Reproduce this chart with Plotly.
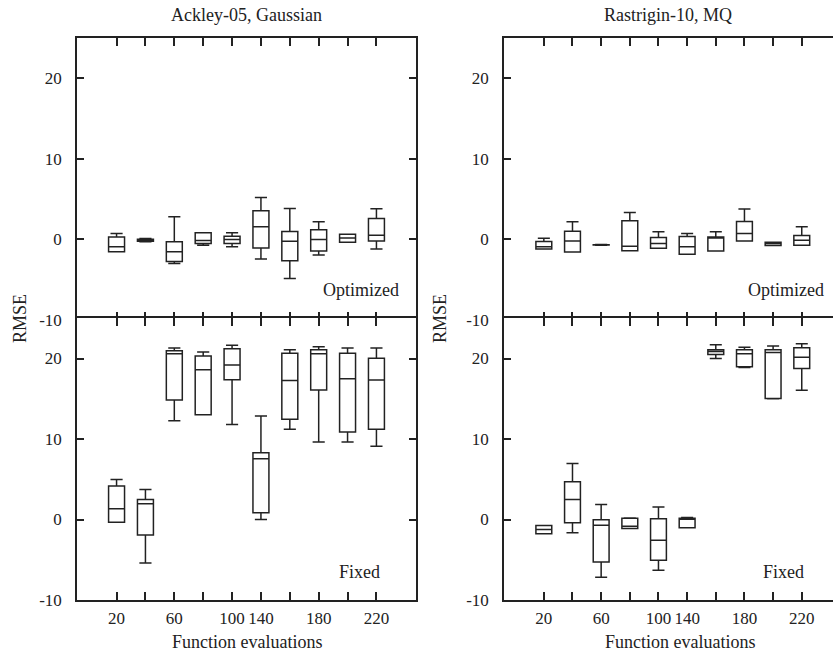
import plotly.graph_objects as go

categories = ["20", "40", "60", "80", "100", "140", "160", "180", "200", "220"]
tick_labels = ["20", "", "60", "", "100", "140", "", "180", "", "220"]

# Ackley-05, Gaussian - Optimized
ack_opt_lo = [-1.54, -0.3, -3.0, -0.75, -0.92, -2.46, -4.88, -1.96, -0.38, -1.21]
ack_opt_q1 = [-1.54, -0.25, -2.75, -0.54, -0.54, -1.08, -2.67, -1.46, -0.38, -0.21]
ack_opt_med = [-0.92, -0.1, -1.54, -0.17, -0.04, 1.54, -0.25, -0.04, 0.17, 0.5]
ack_opt_q3 = [0.29, 0.0, -0.3, 0.8, 0.37, 3.54, 0.96, 1.17, 0.62, 2.58]
ack_opt_hi = [0.71, 0.1, 2.8, 0.8, 0.8, 5.2, 3.83, 2.17, 0.62, 3.79]

# Ackley-05, Gaussian - Fixed
ack_fix_lo = [-0.33, -5.39, 12.28, 13.0, 11.8, 0.0, 11.2, 9.63, 9.63, 9.09]
ack_fix_q1 = [-0.33, -1.91, 14.85, 13.0, 17.35, 0.83, 12.45, 16.1, 10.87, 11.2]
ack_fix_med = [1.33, 1.95, 20.6, 18.6, 19.2, 7.55, 17.26, 20.6, 17.47, 17.34]
ack_fix_q3 = [4.15, 2.49, 20.95, 20.3, 21.2, 8.3, 20.66, 21.08, 20.66, 20.04]
ack_fix_hi = [4.98, 3.73, 21.3, 20.8, 21.66, 12.86, 21.1, 21.45, 21.3, 21.3]

# Rastrigin-10, MQ - Optimized
ras_opt_lo = [-1.2, -1.58, -0.75, -1.42, -1.125, -1.875, -1.46, -0.21, -0.79, -0.75]
ras_opt_q1 = [-1.2, -1.58, -0.72, -1.42, -1.125, -1.875, -1.46, -0.21, -0.79, -0.75]
ras_opt_med = [-0.92, -0.21, -0.7, -0.875, -0.54, -0.92, 0.25, 0.71, -0.54, -0.125]
ras_opt_q3 = [-0.29, 1.0, -0.68, 2.29, 0.21, 0.33, 0.29, 2.21, -0.375, 0.46]
ras_opt_hi = [0.125, 2.17, -0.65, 3.33, 0.92, 0.71, 0.92, 3.75, -0.375, 1.54]

# Rastrigin-10, MQ - Fixed
ras_fix_lo = [-1.78, -1.66, -7.18, -1.12, -6.3, -1.04, 20.0, 18.88, 15.0, 16.06]
ras_fix_q1 = [-1.78, -0.41, -5.27, -1.12, -5.06, -1.04, 20.5, 18.96, 15.02, 18.76]
ras_fix_med = [-1.24, 2.49, -0.7, -0.83, -2.57, 0.08, 20.87, 20.58, 20.75, 20.17]
ras_fix_q3 = [-0.75, 4.69, -0.04, 0.17, 0.08, 0.17, 21.08, 21.08, 21.08, 21.33]
ras_fix_hi = [-0.75, 6.97, 1.87, 0.2, 1.54, 0.25, 21.7, 21.41, 21.54, 21.83]

y_ticks = [-10, 0, 10, 20]
y_tick_labels = ["-10", "0", "10", "20"]

INK = "#222222"
FONT = "Liberation Serif"

W, H = 833, 654
ML, MR, MT, MB = 77, 0, 38, 54
PW = W - ML - MR
PH = H - MT - MB


def px_x(p):
    return (p - ML) / PW


def px_y(p):
    return (H - MB - p) / PH


fig = go.Figure()

panels = [
    ("x", "y", ack_opt_lo, ack_opt_q1, ack_opt_med, ack_opt_q3, ack_opt_hi),
    ("x2", "y2", ras_opt_lo, ras_opt_q1, ras_opt_med, ras_opt_q3, ras_opt_hi),
    ("x3", "y3", ack_fix_lo, ack_fix_q1, ack_fix_med, ack_fix_q3, ack_fix_hi),
    ("x4", "y4", ras_fix_lo, ras_fix_q1, ras_fix_med, ras_fix_q3, ras_fix_hi),
]

for xa, ya, lo, q1, med, q3, hi in panels:
    fig.add_trace(go.Box(
        x=categories, lowerfence=lo, q1=q1, median=med, q3=q3, upperfence=hi,
        xaxis=xa, yaxis=ya, boxpoints=False, fillcolor="white",
        line=dict(color=INK, width=1.5), whiskerwidth=0.76, showlegend=False,
        hoverinfo="skip",
    ))

LW = 1.5
half = (LW / 2) / PH
left_dom = [0, px_x(416)]
right_dom = [px_x(504), 1.0]
top_dom = [0.5 - half, 1.0]
bot_dom = [0.0, 0.5 + half]
left_range = [-1.37, 10.37]
right_range = [-1.39, 10.09]

tick_font = dict(family=FONT, size=17, color=INK)


def xaxis(dom, anchor, rng, show_labels):
    return dict(
        domain=dom, anchor=anchor, type="category", categoryorder="array",
        categoryarray=categories, range=rng,
        tickmode="array", tickvals=categories, ticktext=tick_labels,
        showticklabels=show_labels, ticks="inside", ticklen=8, tickwidth=LW,
        tickcolor=INK, showline=True, linecolor=INK, linewidth=LW,
        mirror="ticks", showgrid=False, zeroline=False, tickfont=tick_font,
        ticklabelstandoff=2,
    )


def yaxis(dom, anchor, mirror):
    return dict(
        domain=dom, anchor=anchor, range=[-10, 25], tickmode="array",
        tickvals=y_ticks, ticktext=y_tick_labels, ticks="inside", ticklen=7,
        tickwidth=LW, tickcolor=INK, showline=True, linecolor=INK,
        linewidth=LW, mirror=mirror, showgrid=False, zeroline=False,
        tickfont=tick_font, ticklabelstandoff=10,
    )


fig.update_layout(
    width=W, height=H,
    margin=dict(l=ML, r=MR, t=MT, b=MB, pad=0),
    paper_bgcolor="white", plot_bgcolor="white",
    boxgap=0.21,
    font=dict(family=FONT, size=18, color=INK),
    xaxis=xaxis(left_dom, "y", left_range, False),
    xaxis2=xaxis(right_dom, "y2", right_range, False),
    xaxis3=xaxis(left_dom, "y3", left_range, True),
    xaxis4=xaxis(right_dom, "y4", right_range, True),
    yaxis=yaxis(top_dom, "x", "ticks"),
    yaxis2=yaxis(top_dom, "x2", False),
    yaxis3=yaxis(bot_dom, "x3", "ticks"),
    yaxis4=yaxis(bot_dom, "x4", False),
)

ann = []


def add_text(text, x, y, xanchor="center", yanchor="middle", angle=0):
    ann.append(dict(text=text, x=px_x(x), y=px_y(y), xref="paper", yref="paper",
                    xanchor=xanchor, yanchor=yanchor, textangle=angle,
                    showarrow=False, font=dict(family=FONT, size=18, color=INK)))


add_text("Ackley-05, Gaussian", 246.5, 15)
add_text("Rastrigin-10, MQ", 668, 15)
add_text("Optimized", 401, 290, xanchor="right")
add_text("Optimized", 826, 290, xanchor="right")
add_text("Fixed", 382, 572, xanchor="right")
add_text("Fixed", 806, 572, xanchor="right")
add_text("RMSE", 20, 319, angle=-90)
add_text("RMSE", 440, 319, angle=-90)
add_text("Function evaluations", 247, 642)
add_text("Function evaluations", 680, 642)

fig.update_layout(annotations=ann)

fig.write_html("out.html", config={"displayModeBar": False},
               post_script="document.body.style.margin='0px';")
